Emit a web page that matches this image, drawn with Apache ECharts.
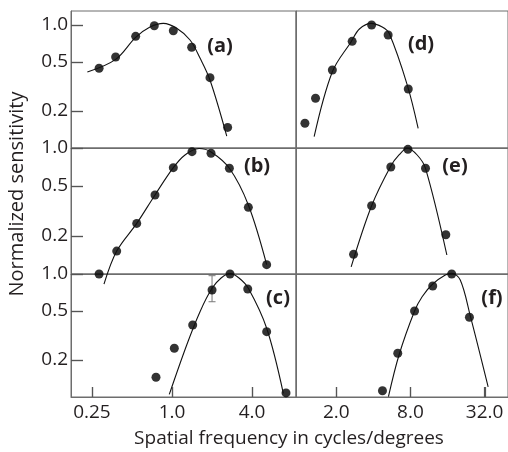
<!DOCTYPE html>
<html>
<head>
<meta charset="utf-8">
<script src="https://cdn.jsdelivr.net/npm/echarts@6/dist/echarts.min.js"></script>
<style>
  html, body { margin: 0; padding: 0; background: #fff; }
  #main { width: 508px; height: 452px; }
</style>
</head>
<body>
<div id="main"></div>
<script>
// tick values
const leftTicks = [0.25, 1.0, 4.0];
const rightTicks = [2.0, 8.0, 32.0];
const yTicks = [0.2, 0.5, 1.0];

// [spatial frequency, normalized sensitivity]
const aPoints = [[0.283, 0.445], [0.377, 0.549], [0.533, 0.809], [0.736, 0.987], [1.023, 0.899], [1.406, 0.659], [1.93, 0.373], [2.62, 0.147]];
const aCurve = [[0.231, 0.415], [0.377, 0.526], [0.533, 0.794], [0.683, 0.963], [0.86, 1.032], [1.085, 0.94], [1.366, 0.755], [1.624, 0.539], [1.93, 0.357], [2.58, 0.125]];

const bPoints = [[0.283, 0.1], [0.384, 0.152], [0.543, 0.252], [0.745, 0.424], [1.023, 0.698], [1.414, 0.935], [1.965, 0.908], [2.7, 0.69], [3.75, 0.338], [5.15, 0.1186]];
const bCurve = [[0.308, 0.083], [0.384, 0.152], [0.543, 0.252], [0.745, 0.424], [1.023, 0.698], [1.252, 0.88], [1.596, 0.99], [1.965, 0.93], [2.7, 0.69], [3.75, 0.353], [5.15, 0.1186]];

const cPoints = [[0.758, 0.1446], [1.041, 0.249], [1.431, 0.385], [2.0, 0.741], [2.73, 1.0], [3.71, 0.755], [5.15, 0.34], [7.2, 0.108]];
const cCurve = [[0.954, 0.105], [1.29, 0.265], [1.624, 0.494], [2.0, 0.765], [2.34, 0.928], [2.73, 1.01], [3.19, 0.928], [3.75, 0.765], [5.15, 0.362], [6.87, 0.107]];
const cError = [[2.0, 0.595], [2.0, 0.969]];

const dPoints = [[1.112, 0.159], [1.356, 0.254], [1.857, 0.431], [2.69, 0.737], [3.87, 1.0], [5.27, 0.829], [7.68, 0.302]];
const dCurve = [[1.321, 0.1236], [1.857, 0.417], [2.64, 0.732], [3.08, 0.928], [3.83, 1.032], [4.72, 0.963], [5.37, 0.856], [7.54, 0.325], [9.24, 0.1446]];

const ePoints = [[2.76, 0.1433], [3.87, 0.348], [5.54, 0.707], [7.63, 0.976], [10.6, 0.69], [15.5, 0.205]];
const eCurve = [[2.64, 0.114], [3.87, 0.348], [5.54, 0.72], [6.46, 0.88], [7.54, 0.995], [9.07, 0.88], [10.6, 0.69], [15.8, 0.1415]];

const fPoints = [[4.74, 0.1125], [6.31, 0.2266], [8.64, 0.5], [12.13, 0.799], [17.3, 1.0], [24.1, 0.445]];
const fCurve = [[5.3, 0.1006], [6.46, 0.2196], [8.64, 0.5], [9.95, 0.654], [12.13, 0.829], [15.35, 0.981], [17.3, 1.013], [20.3, 0.894], [24.4, 0.464], [34.2, 0.121]];

const panels = [
  { label: '(a)', col: 0, row: 0, points: aPoints, curve: aCurve, lx: 220, ly: 46 },
  { label: '(b)', col: 0, row: 1, points: bPoints, curve: bCurve, lx: 257, ly: 166 },
  { label: '(c)', col: 0, row: 2, points: cPoints, curve: cCurve, lx: 278, ly: 298 },
  { label: '(d)', col: 1, row: 0, points: dPoints, curve: dCurve, lx: 421, ly: 44 },
  { label: '(e)', col: 1, row: 1, points: ePoints, curve: eCurve, lx: 455, ly: 166 },
  { label: '(f)', col: 1, row: 2, points: fPoints, curve: fCurve, lx: 492, ly: 298 }
];

const FONT = 'Open Sans';
const TEXT = '#231f20';
const FRAME = '#6d6d6d';
const TICK = '#555';

const cols = [
  { left: 71, width: 225, min: -0.7594, max: 0.9323, ticks: leftTicks },
  { left: 296, width: 214, min: -0.0264, max: 1.6952, ticks: rightTicks }
];
const rows = [
  { top: 11, height: 137, max: 0.114 },
  { top: 148, height: 126, max: 0 },
  { top: 274, height: 123, max: 0 }
];

const lg = (p) => [Math.log10(p[0]), Math.log10(p[1])];
const fmt = (v) => {
  const x = Math.pow(10, v);
  return x < 1 && Math.abs(x * 10 - Math.round(x * 10)) > 1e-6 ? x.toFixed(2) : x.toFixed(1);
};

const grid = [], xAxis = [], yAxis = [], series = [], labels = [];

panels.forEach((p, i) => {
  const c = cols[p.col], r = rows[p.row];
  const bottomRow = p.row === 2;
  grid.push({
    left: c.left, top: r.top, width: c.width, height: r.height,
    show: true, borderColor: FRAME, borderWidth: 1
  });
  xAxis.push({
    type: 'value', gridIndex: i, min: c.min, max: c.max,
    axisLine: { show: true, onZero: false, lineStyle: { color: FRAME } },
    splitLine: { show: false },
    axisTick: { show: bottomRow, inside: true, length: 10, customValues: c.ticks.map(Math.log10), lineStyle: { color: TICK, width: 1.2 } },
    axisLabel: {
      show: bottomRow, margin: 6, fontFamily: FONT, fontSize: 19, color: TEXT,
      customValues: c.ticks.map(Math.log10),
      formatter: fmt
    }
  });
  yAxis.push({
    type: 'value', gridIndex: i, min: -1, max: r.max,
    axisLine: { show: true, onZero: false, lineStyle: { color: FRAME } },
    splitLine: { show: false },
    axisTick: { show: p.col === 0, inside: true, length: 12, customValues: yTicks.map(Math.log10), lineStyle: { color: TICK, width: 1.2 } },
    axisLabel: {
      show: p.col === 0, margin: 3, fontFamily: FONT, fontSize: 19, color: TEXT,
      customValues: yTicks.map(Math.log10),
      formatter: fmt
    }
  });
  series.push({
    type: 'line', xAxisIndex: i, yAxisIndex: i,
    data: p.curve.map(lg), smooth: 0.35, showSymbol: false, clip: false,
    lineStyle: { color: '#111', width: 1.1 }, silent: true
  });
  series.push({
    type: 'scatter', xAxisIndex: i, yAxisIndex: i,
    data: p.points.map(lg), symbolSize: 9, clip: false,
    itemStyle: { color: '#000' }
  });
  labels.push({
    type: 'text', x: p.lx, y: p.ly,
    style: {
      text: p.label, align: 'center', verticalAlign: 'middle',
      font: 'bold 20px "Open Sans"', fill: TEXT
    }
  });
});

// error bar on panel (c)
series.push({
  type: 'line', xAxisIndex: 2, yAxisIndex: 2,
  data: cError.map(lg), symbol: 'rect', symbolSize: [7, 1], showSymbol: true,
  lineStyle: { color: '#777', width: 1 }, itemStyle: { color: '#777' }, z: 1
});

const chart = echarts.init(document.getElementById('main'));
chart.setOption({ animation: false, grid, xAxis, yAxis, series });

// inward tick marks, positioned through each grid's own scales
const ticks = [];
panels.forEach((p, i) => {
  const c = cols[p.col];
  if (p.col === 0) {
    yTicks.forEach((v) => {
      const pt = chart.convertToPixel({ xAxisIndex: i, yAxisIndex: i }, [c.min, Math.log10(v)]);
      if (!pt || isNaN(pt[0])) return;
      const y = Math.round(pt[1]) + 0.5;
      ticks.push({ type: 'line', z: 100, shape: { x1: pt[0], y1: y, x2: pt[0] + 12, y2: y }, style: { stroke: TICK, lineWidth: 1.2 } });
    });
  }
  if (p.row === 2) {
    c.ticks.forEach((v) => {
      const pt = chart.convertToPixel({ xAxisIndex: i, yAxisIndex: i }, [Math.log10(v), -1]);
      if (!pt || isNaN(pt[0])) return;
      const x = Math.round(pt[0]) + 0.5;
      ticks.push({ type: 'line', z: 100, shape: { x1: x, y1: pt[1], x2: x, y2: pt[1] - 10 }, style: { stroke: TICK, lineWidth: 1.2 } });
    });
  }
});

chart.setOption({
  graphic: labels.concat(ticks, [
    {
      type: 'text', x: 17, y: 194, rotation: Math.PI / 2,
      style: { text: 'Normalized sensitivity', align: 'center', verticalAlign: 'middle', font: '20px "Open Sans"', fill: TEXT }
    },
    {
      type: 'text', x: 289, y: 439,
      style: { text: 'Spatial frequency in cycles/degrees', align: 'center', verticalAlign: 'middle', font: '19px "Open Sans"', fill: TEXT }
    }
  ])
});
</script>
</body>
</html>
